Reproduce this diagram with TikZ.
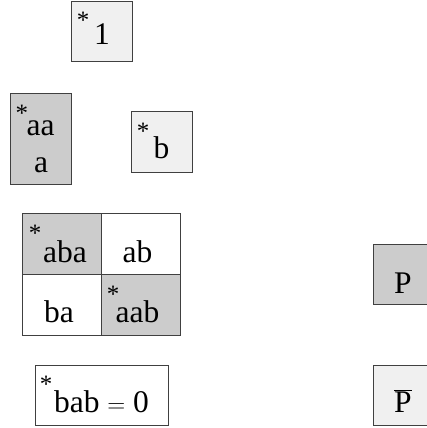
\documentclass[tikz,border=0pt]{standalone}
\usepackage{fontspec}
\setmainfont{Liberation Serif}
\usetikzlibrary{positioning}
\definecolor{boxedge}{HTML}{404040}
\definecolor{boxdark}{HTML}{CCCCCC}
\definecolor{boxlight}{HTML}{F0F0F0}

\begin{document}
\begin{tikzpicture}[
  x=1pt,
  y=-1pt,
  every node/.style={font=\fontsize{31.5}{36}\selectfont, inner sep=0pt, outer sep=0pt},
  cell/.style n args={2}{draw=boxedge, line width=1pt,
                         minimum width=#1pt, minimum height=#2pt},
  darkcell/.style={fill=boxdark},
  lightcell/.style={fill=boxlight},
  word/.style={anchor=base},
  star/.style={anchor=base, font=\fontsize{25}{30}\selectfont}
]

  %% ---- 圖框範圍 (右邊兩格被切掉) --------------------------------------
  \clip (0,0) rectangle (427,428);

  %% ---- 上方: 1, aa/a, b ----------------------------------------------
  \node[cell={61}{60}, lightcell] (one) at (101.5,32) {};
  \node[word] (onetxt) at (102,45) {1};
  \node[star] (onestar) at (83,29) {*};

  \node[cell={61}{91}, darkcell] (aa) at (40.5,138.5) {};
  \node[word] (aatxt) at (40.5,135) {aa};
  \node[word] (atxt) at (41,172) {a};
  \node[star] (aastar) at (22,121) {*};

  \node[cell={61}{61}, lightcell] (b) at (161.5,141.5) {};
  \node[word] (btxt) at (161.5,158) {b};
  \node[star] (bstar) at (143,139) {*};

  %% ---- 二乘二的格子 ---------------------------------------------------
  \node[cell={79}{61}, darkcell] (aba) at (61.5,243.5) {};
  \node[cell={79}{61}, right=0pt of aba] (ab) {};
  \node[cell={79}{61}, below=0pt of aba] (ba) {};
  \node[cell={79}{61}, darkcell, right=0pt of ba] (aab) {};
  \node[word] (abatxt) at (65,262) {aba};
  \node[word] (abtxt) at (137.5,262) {ab};
  \node[word] (batxt) at (59,322) {ba};
  \node[word] (aabtxt) at (137.5,322) {aab};
  \node[star] (abastar) at (35,241) {*};
  \node[star] (aabstar) at (113,302) {*};

  %% ---- 下方: bab = 0 --------------------------------------------------
  \node[cell={133}{60}] (bab) at (101.5,395) {};
  \node[word] (babtxt) at (101.5,412) {bab $=$ 0};
  \node[star] (babstar) at (46,392) {*};

  %% ---- 右邊: P 與 P 上加橫線 ------------------------------------------
  \node[cell={60}{60}, darkcell] (p) at (403,274) {};
  \node[word] (ptxt) at (403,293) {P};
  \node[cell={60}{60}, lightcell] (pbar) at (403,395) {};
  \node[word] (pbartxt) at (403,412) {$\overline{\mbox{P}}$};

\end{tikzpicture}
\end{document}
